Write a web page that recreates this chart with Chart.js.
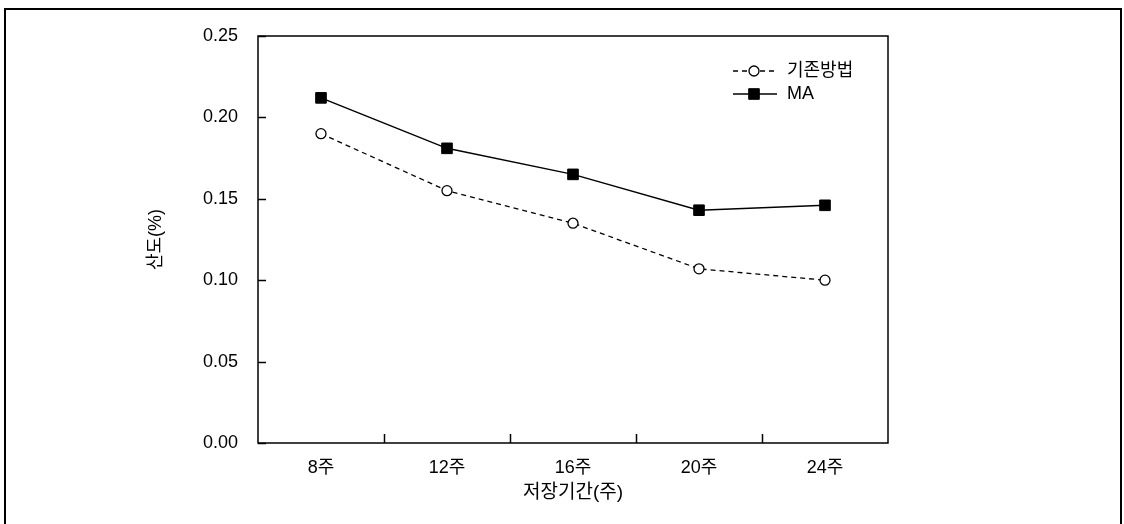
<!DOCTYPE html>
<html>
<head>
<meta charset="utf-8">
<script src="https://cdn.jsdelivr.net/npm/chart.js@4/dist/chart.umd.min.js"></script>
<style>
  html, body { margin: 0; padding: 0; background: #fff; }
  #wrap { width: 1124px; height: 524px; }
</style>
</head>
<body>
<div id="wrap"><canvas id="lineChart" width="1124" height="524"></canvas></div>
<script>
// chart data
const categories = ['8주', '12주', '16주', '20주', '24주'];
const seriesNames = ['기존방법', 'MA'];
const baseValues = [0.190, 0.155, 0.135, 0.107, 0.100];
const maValues = [0.212, 0.181, 0.165, 0.143, 0.146];
const yTicks = [0, 0.05, 0.10, 0.15, 0.20, 0.25];

const FONT = "'Liberation Sans', Arial, 'Noto Sans CJK KR', sans-serif";
const FONT_SIZE = 18;

// outer frame, plot box, inward tick marks and the inline legend
const framePlugin = {
    id: 'framePlugin',
    beforeDraw(chart) {
        const ctx = chart.ctx;
        ctx.save();
        ctx.strokeStyle = '#000';
        ctx.lineWidth = 2;
        ctx.beginPath();
        ctx.moveTo(5, chart.height);
        ctx.lineTo(5, 9);
        ctx.lineTo(1121, 9);
        ctx.lineTo(1121, chart.height);
        ctx.stroke();
        ctx.restore();
    },
    afterDraw(chart) {
        const ctx = chart.ctx;
        const area = chart.chartArea;
        const xs = chart.scales.x;
        const ys = chart.scales.y;
        ctx.save();
        ctx.strokeStyle = '#000';
        ctx.lineWidth = 1.5;
        ctx.strokeRect(area.left, area.top, area.right - area.left, area.bottom - area.top);

        ctx.beginPath();
        yTicks.forEach(v => {
            const py = Math.round(ys.getPixelForValue(v)) + 0.5;
            ctx.moveTo(area.left, py);
            ctx.lineTo(area.left + 8, py);
        });
        for (let i = 0; i < categories.length - 1; i++) {
            const px = Math.round((xs.getPixelForTick(i) + xs.getPixelForTick(i + 1)) / 2) + 0.5;
            ctx.moveTo(px, area.bottom);
            ctx.lineTo(px, area.bottom - 9);
        }
        ctx.stroke();

        // legend
        const lx = area.right - 155;
        const rows = [area.top + 35, area.top + 58];
        chart.data.datasets.forEach((ds, i) => {
            const y = rows[i];
            ctx.save();
            ctx.strokeStyle = ds.borderColor;
            ctx.lineWidth = ds.borderWidth;
            ctx.setLineDash(ds.borderDash || []);
            ctx.beginPath();
            ctx.moveTo(lx, y);
            ctx.lineTo(lx + 44, y);
            ctx.stroke();
            ctx.setLineDash([]);
            ctx.fillStyle = ds.pointBackgroundColor;
            ctx.strokeStyle = ds.pointBorderColor;
            ctx.lineWidth = ds.pointBorderWidth;
            Chart.helpers.drawPoint(ctx, {
                pointStyle: ds.pointStyle,
                radius: ds.pointRadius,
                borderWidth: ds.pointBorderWidth
            }, lx + 21, y);
            ctx.restore();
            ctx.fillStyle = '#000';
            ctx.font = FONT_SIZE + 'px ' + FONT;
            ctx.textBaseline = 'middle';
            ctx.textAlign = 'left';
            ctx.fillText(ds.label, lx + 54, y);
        });
        ctx.restore();
    }
};

let StartFunc = () => {
    const ctx = document.getElementById('lineChart');

    new Chart(ctx, {
        type: 'line',
        data: {
            labels: categories,
            datasets: [{
                label: seriesNames[0],
                data: baseValues,
                borderColor: '#000',
                borderWidth: 1.3,
                borderDash: [5, 4],
                pointStyle: 'circle',
                pointRadius: 5,
                pointBorderWidth: 1.3,
                pointBackgroundColor: '#fff',
                pointBorderColor: '#000',
                fill: false,
                tension: 0
            }, {
                label: seriesNames[1],
                data: maValues,
                borderColor: '#000',
                borderWidth: 1.5,
                pointStyle: 'rect',
                pointRadius: 7.5,
                pointBorderWidth: 1,
                pointBackgroundColor: '#000',
                pointBorderColor: '#000',
                fill: false,
                tension: 0
            }]
        },
        options: {
            responsive: false,
            animation: false,
            devicePixelRatio: 1,
            layout: { padding: { left: 0, top: 36, right: 236, bottom: 0 } },
            plugins: {
                legend: { display: false },
                tooltip: { enabled: false }
            },
            scales: {
                x: {
                    offset: true,
                    grid: { display: false, drawTicks: false },
                    border: { display: false },
                    ticks: {
                        color: '#000',
                        padding: 14,
                        font: { family: FONT, size: FONT_SIZE }
                    },
                    title: {
                        display: true,
                        text: '저장기간(주)',
                        color: '#000',
                        font: { family: FONT, size: 19 },
                        padding: { top: 0, bottom: 20 }
                    },
                    afterFit: scale => { scale.height = 81; }
                },
                y: {
                    min: 0,
                    max: 0.25,
                    grid: { display: false, drawTicks: false },
                    border: { display: false },
                    afterBuildTicks: scale => {
                        scale.ticks = yTicks.map(v => ({ value: v }));
                    },
                    ticks: {
                        color: '#000',
                        padding: 20,
                        font: { family: FONT, size: FONT_SIZE },
                        callback: v => Number(v).toFixed(2)
                    },
                    title: {
                        display: true,
                        text: '산도(%)',
                        color: '#000',
                        font: { family: FONT, size: FONT_SIZE },
                        padding: { top: 145, bottom: 0 }
                    },
                    afterFit: scale => { scale.width = 258; }
                }
            }
        },
        plugins: [framePlugin]
    });
};

StartFunc();
</script>
</body>
</html>
